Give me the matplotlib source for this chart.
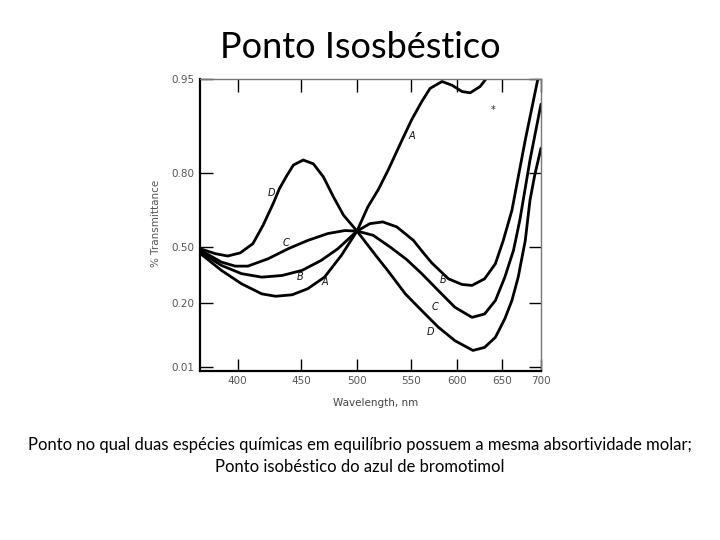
"""
Ponto isosbéstico do azul de bromotimol: espectros de transmitância
de quatro soluções (A, B, C, D) que se cruzam em 500 nm.
"""

import numpy as np
import matplotlib
matplotlib.use("Agg")
import matplotlib.pyplot as plt

# curvas (comprimento de onda em nm, transmitância)
a_nm = [370, 387, 403, 419, 430, 443, 456, 471, 486, 500, 510, 520, 529, 542,
        551, 562, 571, 584, 595, 606, 615, 626, 633, 637]
a_t = [0.468, 0.375, 0.302, 0.247, 0.234, 0.242, 0.275, 0.338, 0.456, 0.566,
       0.663, 0.735, 0.805, 0.853, 0.885, 0.914, 0.935, 0.946, 0.940, 0.930,
       0.928, 0.938, 0.951, 0.97]

b_nm = [370, 387, 403, 419, 435, 451, 468, 483, 500, 512, 524, 537, 545, 553,
        563, 573, 591, 606, 617, 631, 643, 652, 663, 680, 696]
b_t = [0.476, 0.402, 0.357, 0.338, 0.347, 0.375, 0.429, 0.493, 0.566, 0.596,
       0.603, 0.583, 0.555, 0.528, 0.475, 0.415, 0.329, 0.298, 0.293, 0.329,
       0.411, 0.528, 0.650, 0.853, 0.95]

c_nm = [370, 387, 398, 408, 424, 440, 456, 474, 489, 500, 515, 531, 546, 562,
        580, 598, 617, 631, 643, 654, 665, 673, 686, 700]
c_t = [0.486, 0.420, 0.398, 0.398, 0.438, 0.493, 0.528, 0.556, 0.568, 0.566,
       0.549, 0.501, 0.435, 0.357, 0.265, 0.186, 0.156, 0.166, 0.211, 0.338,
       0.484, 0.609, 0.821, 0.91]

d_nm = [370, 382, 392, 402, 412, 420, 428, 433, 439, 444, 452, 461, 470, 479,
        488, 500, 518, 529, 545, 562, 580, 598, 618, 631, 643, 654, 663, 671,
        680, 686, 692, 700]
d_t = [0.493, 0.466, 0.453, 0.470, 0.515, 0.589, 0.677, 0.738, 0.792, 0.813,
       0.821, 0.815, 0.785, 0.704, 0.630, 0.566, 0.452, 0.371, 0.247, 0.176,
       0.127, 0.087, 0.058, 0.067, 0.097, 0.152, 0.211, 0.338, 0.528, 0.691,
       0.792, 0.84]

# rótulos das curvas
rotulos = ["D", "C", "B", "A", "A", "B", "C", "D"]
rot_nm = [427, 438, 449, 471, 551, 585, 576, 571]
rot_t = [0.72, 0.517, 0.338, 0.31, 0.86, 0.32, 0.186, 0.112]

x_ticks = [400, 450, 500, 550, 600, 650, 700]
y_ticks = [0.01, 0.20, 0.50, 0.80, 0.95]
y_labels = ["0.01", "0.20", "0.50", "0.80", "0.95"]

# os eixos do espectro original não são lineares: calibração pelas marcas
X_CAL = [370, 400, 450, 500, 550, 600, 650, 700]
X_POS = [0, 37.7, 101, 157, 210.7, 256.7, 301.7, 341]
Y_CAL = [0.01, 0.20, 0.50, 0.80, 0.95]
Y_POS = [0, 64, 119, 193, 287]


def interp_ext(v, xs, ys):
    v = np.asarray(v, dtype=float)
    xs = np.asarray(xs, dtype=float)
    ys = np.asarray(ys, dtype=float)
    out = np.interp(v, xs, ys)
    k0 = (ys[1] - ys[0]) / (xs[1] - xs[0])
    k1 = (ys[-1] - ys[-2]) / (xs[-1] - xs[-2])
    out = np.where(v < xs[0], ys[0] + (v - xs[0]) * k0, out)
    out = np.where(v > xs[-1], ys[-1] + (v - xs[-1]) * k1, out)
    return out


def escala(cal, pos):
    return (lambda v: interp_ext(v, cal, pos),
            lambda p: interp_ext(p, pos, cal))


fig = plt.figure(figsize=(7.2, 5.4), dpi=100)
ax = fig.add_axes([200 / 720, 1 - 370.7 / 540, 341 / 720, 291.7 / 540])

ax.set_xscale("function", functions=escala(X_CAL, X_POS))
ax.set_yscale("function", functions=escala(Y_CAL, Y_POS))

for xs, ts in [(a_nm, a_t), (b_nm, b_t), (c_nm, c_t), (d_nm, d_t)]:
    ax.plot(xs, ts, color="black", lw=2.0, solid_joinstyle="round",
            solid_capstyle="round")

for r, x, y in zip(rotulos, rot_nm, rot_t):
    ax.text(x, y, r, fontsize=7, style="italic", color="#111111",
            ha="center", va="center")
ax.text(641, 0.90, "*", fontsize=7, color="#222222", ha="center", va="center")

ax.set_xlim(370, 700)
ax.set_ylim(-0.002, 0.95)
ax.set_xticks(x_ticks)
ax.set_xticklabels([str(t) for t in x_ticks])
ax.set_yticks(y_ticks)
ax.set_yticklabels(y_labels)
ax.minorticks_off()

ax.tick_params(direction="in", length=9, width=1, top=True, right=True,
               labelsize=7.5, labelcolor="#555555", pad=4)

ax.spines["left"].set_linewidth(1.6)
ax.spines["bottom"].set_linewidth(1.6)
for lado in ["top", "right"]:
    ax.spines[lado].set_linewidth(1.0)
    ax.spines[lado].set_color("#777777")

ax.set_xlabel("Wavelength, nm", fontsize=7.5, color="#444444")
ax.set_ylabel("% Transmittance", fontsize=7.5, color="#555555")
ax.xaxis.set_label_coords(0.515, -0.092)
ax.yaxis.set_label_coords(-0.113, 0.506)

fig.text(0.5, 1 - 48 / 540, "Ponto Isosbéstico", fontsize=26,
         family="Lato", color="black", ha="center", va="center")
fig.text(0.5, 1 - 445 / 540,
         "Ponto no qual duas espécies químicas em equilíbrio possuem a mesma "
         "absortividade molar;", fontsize=12, family="Lato",
         ha="center", va="center")
fig.text(0.5, 1 - 467 / 540, "Ponto isobéstico do azul de bromotimol",
         fontsize=12, family="Lato", ha="center", va="center")

fig.savefig("out.png", dpi=100)
